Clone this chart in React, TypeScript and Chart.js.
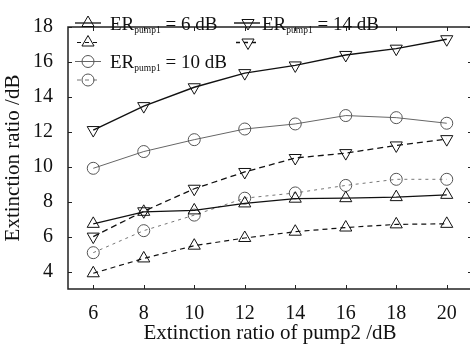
import React, { useEffect, useRef } from 'react';
import { Chart, registerables } from 'chart.js';

Chart.register(...registerables);

const X_VALUES = [6, 8, 10, 12, 14, 16, 18, 20];
const X_TICKS = [6, 8, 10, 12, 14, 16, 18, 20];
const Y_TICKS = [4, 6, 8, 10, 12, 14, 16, 18];

const ER6_SOLID = [6.73, 7.42, 7.5, 7.9, 8.17, 8.2, 8.26, 8.39];
const ER6_DASHED = [3.9, 4.75, 5.48, 5.92, 6.28, 6.52, 6.7, 6.73];
const ER10_SOLID = [9.91, 10.87, 11.55, 12.16, 12.45, 12.93, 12.81, 12.49];
const ER10_DASHED = [5.08, 6.34, 7.23, 8.2, 8.5, 8.93, 9.28, 9.28];
const ER14_SOLID = [12.1, 13.47, 14.55, 15.36, 15.8, 16.4, 16.76, 17.3];
const ER14_DASHED = [6.0, 7.45, 8.74, 9.7, 10.5, 10.78, 11.22, 11.58];

const ER_LABELS = ['6', '10', '14'];
const X_TITLE = 'Extinction ratio of pump2 /dB';
const Y_TITLE = 'Extinction ratio /dB';

const FONT = '"Liberation Serif", "Times New Roman", serif';

type Style = {
  color: string;
  dash: number[];
  width: number;
  shape: 'up' | 'down' | 'circle';
};

const STYLES: Record<string, Style> = {
  er6s: { color: '#111', dash: [], width: 1.3, shape: 'up' },
  er6d: { color: '#111', dash: [5, 4], width: 1.2, shape: 'up' },
  er10s: { color: '#666', dash: [], width: 1, shape: 'circle' },
  er10d: { color: '#777', dash: [3, 4], width: 1, shape: 'circle' },
  er14s: { color: '#111', dash: [], width: 1.4, shape: 'down' },
  er14d: { color: '#111', dash: [6, 4], width: 1.3, shape: 'down' },
};

function makeDataset(data: number[], key: string) {
  const s = STYLES[key];
  return {
    label: key,
    data: X_VALUES.map((x, i) => ({ x, y: data[i] })),
    borderColor: s.color,
    borderWidth: s.width,
    borderDash: s.dash,
    pointStyle: s.shape === 'circle' ? 'circle' : 'triangle',
    pointRotation: s.shape === 'down' ? 180 : 0,
    pointRadius: s.shape === 'circle' ? 6 : 7,
    pointBorderColor: s.shape === 'circle' ? '#555' : '#111',
    pointBorderWidth: 1,
    pointBackgroundColor: 'rgba(255,255,255,0)',
    fill: false,
    tension: 0,
  };
}

function drawMarker(ctx: CanvasRenderingContext2D, shape: string, x: number, y: number, color: string) {
  ctx.save();
  ctx.setLineDash([]);
  ctx.strokeStyle = color;
  ctx.lineWidth = 1;
  ctx.beginPath();
  if (shape === 'circle') {
    ctx.arc(x, y, 6, 0, Math.PI * 2);
  } else {
    const r = 7;
    const sgn = shape === 'down' ? -1 : 1;
    for (let k = 0; k < 3; k++) {
      const a = (k * 2 * Math.PI) / 3;
      const px = x + Math.sin(a) * r * sgn;
      const py = y - Math.cos(a) * r * sgn;
      if (k === 0) ctx.moveTo(px, py);
      else ctx.lineTo(px, py);
    }
    ctx.closePath();
  }
  ctx.stroke();
  ctx.restore();
}

function drawLegendEntry(
  ctx: CanvasRenderingContext2D,
  key: string,
  lx0: number,
  lx1: number,
  mx: number,
  y: number,
  text: string | null,
  tx: number
) {
  const s = STYLES[key];
  ctx.save();
  ctx.strokeStyle = s.color;
  ctx.lineWidth = s.width;
  ctx.setLineDash(s.dash.length ? [4, 4] : []);
  ctx.beginPath();
  ctx.moveTo(lx0, y);
  ctx.lineTo(lx1, y);
  ctx.stroke();
  ctx.restore();
  drawMarker(ctx, s.shape, mx, y, s.shape === 'circle' ? '#555' : '#111');
  if (text !== null) {
    ctx.save();
    ctx.fillStyle = '#111';
    ctx.textBaseline = 'alphabetic';
    ctx.textAlign = 'left';
    const base = y + 6.5;
    ctx.font = '19px ' + FONT;
    ctx.fillText('ER', tx, base);
    let w = ctx.measureText('ER').width;
    ctx.font = '9.5px ' + FONT;
    ctx.fillText('pump1', tx + w, base + 3);
    w += ctx.measureText('pump1').width;
    ctx.font = '19px ' + FONT;
    ctx.fillText(' = ' + text + ' dB', tx + w, base);
    ctx.restore();
  }
}

const framePlugin = {
  id: 'frameAndLegend',
  afterDatasetsDraw(chart: any) {
    const { ctx, chartArea } = chart;
    const { left, right, top, bottom } = chartArea;
    const xs = chart.scales.x;
    const ys = chart.scales.y;
    ctx.save();
    ctx.strokeStyle = '#222';
    ctx.lineWidth = 1.5;
    ctx.setLineDash([]);
    ctx.strokeRect(left, top, right - left, bottom - top);
    ctx.lineWidth = 1;
    const tl = 4;
    ctx.beginPath();
    X_TICKS.forEach((v) => {
      const px = Math.round(xs.getPixelForValue(v)) + 0.5;
      ctx.moveTo(px, bottom);
      ctx.lineTo(px, bottom - tl);
      ctx.moveTo(px, top);
      ctx.lineTo(px, top + tl);
    });
    Y_TICKS.forEach((v) => {
      const py = Math.round(ys.getPixelForValue(v)) + 0.5;
      ctx.moveTo(left, py);
      ctx.lineTo(left + tl, py);
      ctx.moveTo(right, py);
      ctx.lineTo(right - tl, py);
    });
    ctx.stroke();
    ctx.restore();

    const rows = [23, 42.5, 61.5, 80];
    drawLegendEntry(ctx, 'er6s', 75, 101, 88, rows[0], ER_LABELS[0], 110);
    drawLegendEntry(ctx, 'er6d', 77, 99, 88, rows[1], null, 110);
    drawLegendEntry(ctx, 'er10s', 75, 101, 88, rows[2], ER_LABELS[1], 110);
    drawLegendEntry(ctx, 'er10d', 77, 99, 88, rows[3], null, 110);
    drawLegendEntry(ctx, 'er14s', 234, 260, 248, rows[0], ER_LABELS[2], 262);
    drawLegendEntry(ctx, 'er14d', 236, 258, 248, rows[1], null, 262);
  },
};

export default function App() {
  const ref = useRef<HTMLCanvasElement | null>(null);
  useEffect(() => {
    if (!ref.current) return;
    const chart = new Chart(ref.current, {
      type: 'line',
      data: {
        datasets: [
          makeDataset(ER6_SOLID, 'er6s'),
          makeDataset(ER6_DASHED, 'er6d'),
          makeDataset(ER10_SOLID, 'er10s'),
          makeDataset(ER10_DASHED, 'er10d'),
          makeDataset(ER14_SOLID, 'er14s'),
          makeDataset(ER14_DASHED, 'er14d'),
        ] as any,
      },
      options: {
        responsive: false,
        animation: false,
        devicePixelRatio: 1,
        layout: { padding: { top: 12, right: 7, left: 0, bottom: 0 } },
        plugins: { legend: { display: false }, tooltip: { enabled: false } },
        scales: {
          x: {
            type: 'linear',
            min: 5,
            max: 21,
            afterFit: (s: any) => {
              s.height = 65;
            },
            afterBuildTicks: (s: any) => {
              s.ticks = X_TICKS.map((v) => ({ value: v }));
            },
            grid: { display: false, drawTicks: false },
            border: { display: false },
            ticks: {
              padding: 13,
              color: '#111',
              font: { family: FONT, size: 20 },
              maxRotation: 0,
              autoSkip: false,
            },
            title: {
              display: true,
              text: X_TITLE,
              color: '#111',
              font: { family: FONT, size: 21 },
              padding: { top: 0, bottom: 8 },
            },
          },
          y: {
            type: 'linear',
            min: 3,
            max: 18,
            afterFit: (s: any) => {
              s.width = 68;
            },
            afterBuildTicks: (s: any) => {
              s.ticks = Y_TICKS.map((v) => ({ value: v }));
            },
            grid: { display: false, drawTicks: false },
            border: { display: false },
            ticks: {
              padding: 15,
              color: '#111',
              font: { family: FONT, size: 20 },
              autoSkip: false,
            },
            title: {
              display: true,
              text: Y_TITLE,
              color: '#111',
              font: { family: FONT, size: 21 },
              padding: { top: 1, bottom: 0 },
            },
          },
        },
      } as any,
      plugins: [framePlugin],
    });
    return () => chart.destroy();
  }, []);
  return (
    <div
      style={{
        position: 'fixed',
        left: 0,
        top: 0,
        width: 470,
        height: 354,
        overflow: 'hidden',
        background: '#fff',
      }}
    >
      <canvas ref={ref} width={480} height={354} style={{ display: 'block' }} />
    </div>
  );
}
